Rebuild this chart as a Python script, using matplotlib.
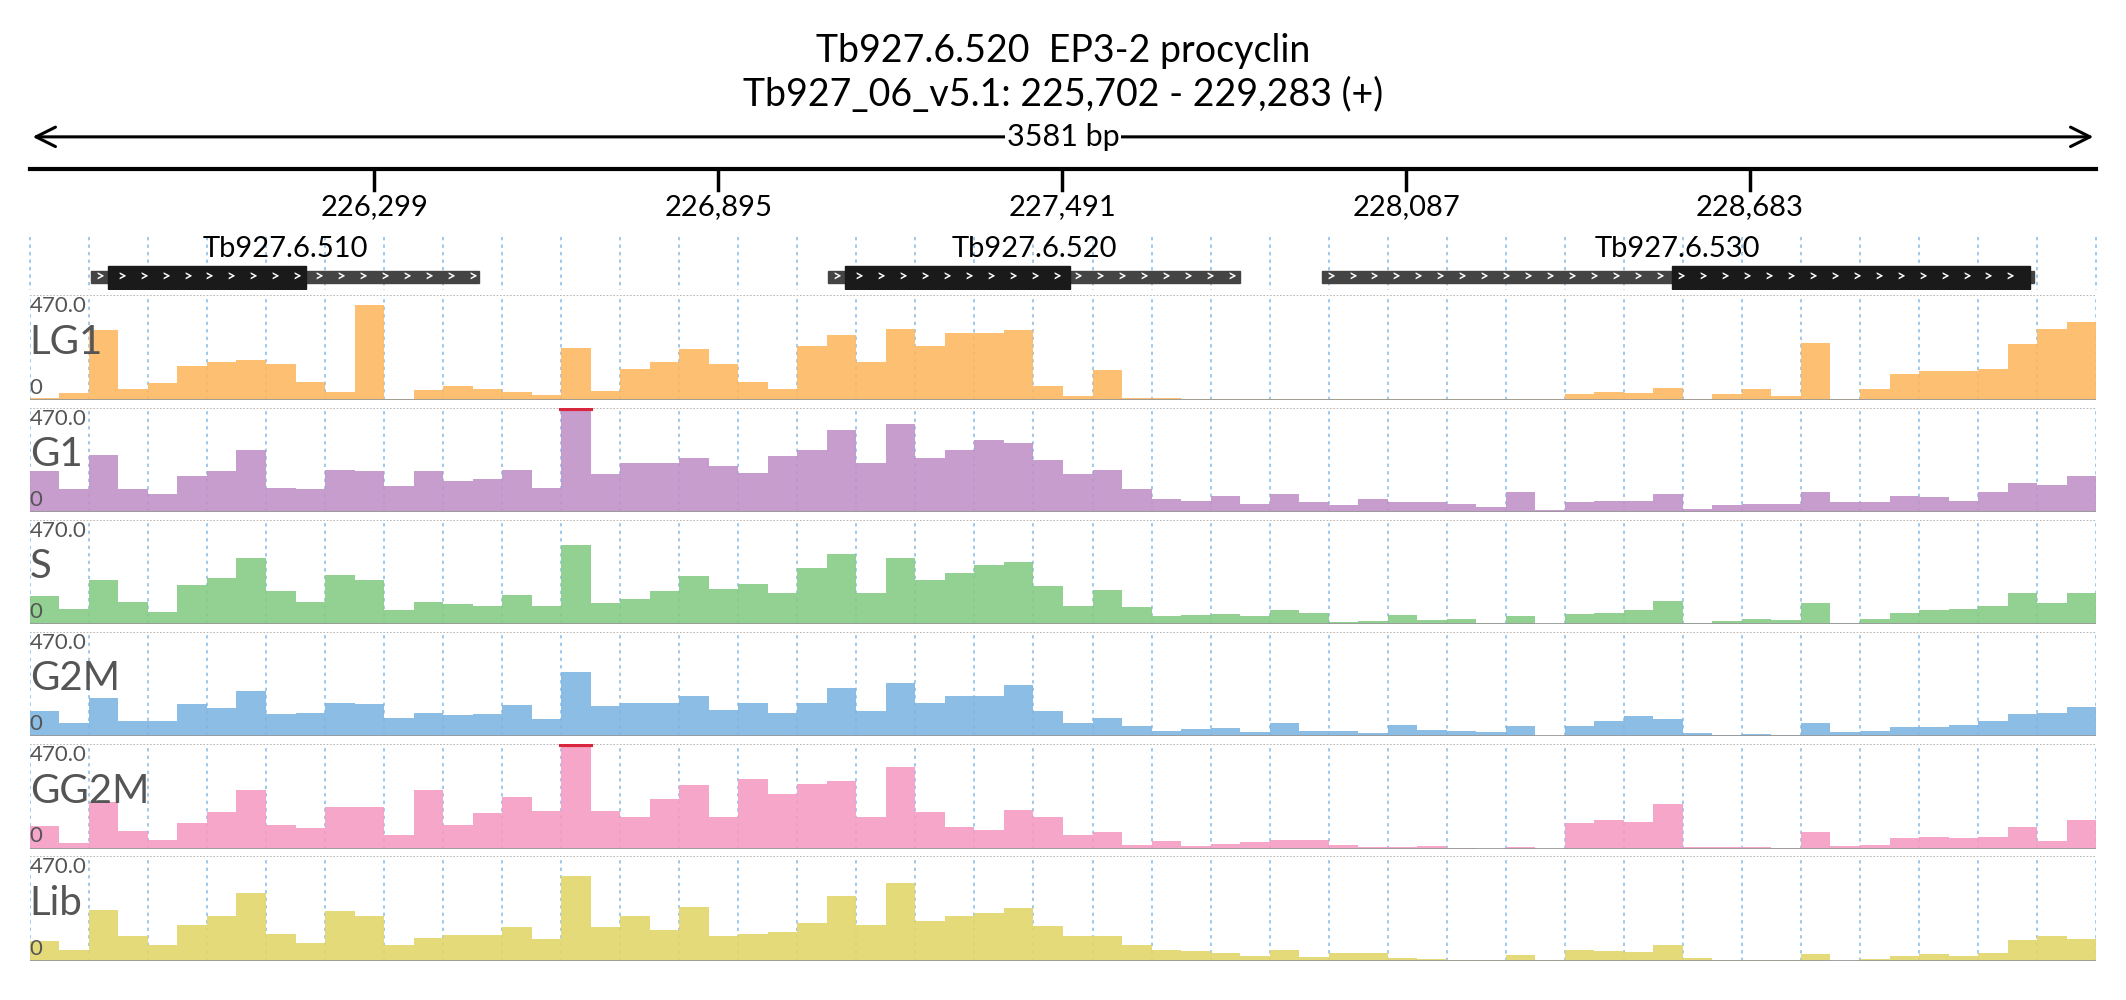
import matplotlib.pyplot as plt
import numpy as np

plt.rcParams['font.family'] = ['Lato', 'DejaVu Sans']

# ---- data ----
start, end = 225702, 229283
ticks = [226299, 226895, 227491, 228087, 228683]
n_grid = 35
ymax = 470.0

# genes: name, utr start, cds start, cds end, utr end
gene_names = ["Tb927.6.510", "Tb927.6.520", "Tb927.6.530"]
gene_utr = [(225808, 226480), (227086, 227800), (227941, 229175)]
gene_cds = [(225838, 226181), (227114, 227504), (228548, 229168)]

track_names = ["LG1", "G1", "S", "G2M", "GG2M", "Lib"]
track_colors = ["#fdb863", "#c093c7", "#86cc86", "#80b6e2", "#f59cc4", "#e3d66a"]

LG1 = [6, 30, 315, 50, 75, 150, 170, 180, 160, 80, 33, 425, 4, 45, 60, 50, 35, 20,
       233, 40, 140, 170, 230, 160, 80, 47, 240, 290, 170, 320, 240, 300, 300, 315,
       60, 15, 136, 6, 9, 3, 3, 2, 2, 2, 2, 2, 2, 2, 2, 2, 4, 2, 25, 33, 30, 55,
       3, 25, 47, 18, 255, 3, 47, 114, 129, 129, 140, 250, 320, 350]
G1 = [184, 103, 257, 103, 81, 162, 184, 279, 110, 103, 191, 184, 118, 184, 140, 147,
      191, 110, 470, 170, 220, 220, 243, 206, 176, 250, 279, 367, 220, 397, 243, 279,
      323, 309, 235, 170, 191, 103, 59, 51, 73, 37, 81, 44, 29, 59, 44, 44, 37, 22,
      88, 7, 44, 51, 51, 81, 15, 29, 37, 37, 88, 44, 44, 73, 66, 51, 88, 132, 120, 160]
S = [126, 67, 200, 100, 55, 175, 207, 300, 150, 100, 222, 200, 64, 100, 92, 80,
     133, 81, 355, 96, 111, 148, 215, 160, 180, 140, 252, 318, 140, 300, 200, 230,
     266, 281, 170, 80, 155, 78, 37, 40, 44, 37, 62, 52, 10, 12, 41, 18, 22, 7,
     37, 1, 44, 49, 62, 104, 4, 12, 21, 18, 95, 7, 22, 52, 64, 67, 81, 141, 95, 140]
G2M = [114, 62, 173, 70, 70, 144, 129, 206, 100, 107, 150, 144, 84, 107, 95, 100,
       140, 80, 290, 135, 150, 150, 181, 120, 150, 107, 152, 218, 115, 240, 150, 180,
       181, 232, 114, 60, 81, 47, 25, 33, 37, 18, 58, 25, 22, 13, 52, 28, 25, 18,
       47, 1, 47, 70, 90, 80, 13, 7, 10, 7, 62, 18, 25, 43, 40, 52, 70, 99, 105, 130]
GG2M = [102, 25, 210, 80, 40, 114, 166, 262, 107, 92, 188, 188, 62, 262, 107, 158,
        230, 170, 470, 170, 144, 225, 284, 144, 314, 247, 292, 306, 144, 366, 166, 99,
        84, 173, 140, 60, 74, 18, 36, 10, 19, 28, 37, 37, 18, 6, 7, 13, 1, 0,
        6, 0, 114, 129, 120, 200, 7, 7, 7, 3, 74, 10, 18, 47, 52, 47, 52, 96, 33, 129]
Lib = [87, 50, 230, 110, 70, 160, 200, 305, 120, 80, 226, 200, 72, 102, 117, 117,
       150, 100, 380, 150, 200, 140, 240, 110, 120, 130, 170, 290, 160, 350, 177, 200,
       215, 237, 155, 110, 110, 72, 50, 42, 35, 22, 50, 16, 35, 35, 12, 7, 4, 4,
       27, 4, 50, 42, 38, 70, 12, 4, 4, 4, 31, 0, 7, 22, 31, 22, 35, 95, 110, 100]
tracks = [LG1, G1, S, G2M, GG2M, Lib]

# ---- layout ----
W, H = 1568.0, 738.0
fig = plt.figure(figsize=(21.26, 10), dpi=100)
x0, x1 = 22 / W, 1546 / W
grid_x = np.linspace(start, end, n_grid + 1)


def fy(px):
    return 1 - px / H


grid_kw = dict(color="#8fbfe8", lw=1.2, ls=(0, (2, 2.5)), zorder=0)

# header axes (title, ruler, genes), y measured in px from top
hax = fig.add_axes([0, fy(214), 1, 1 - fy(214)])
hax.set_xlim(start - x0 / (x1 - x0) * (end - start), end + (1 - x1) / (x1 - x0) * (end - start))
hax.set_ylim(214, 0)
hax.axis("off")
mid = (start + end) / 2
hax.text(mid, 38, "Tb927.6.520  EP3-2 procyclin", ha="center", va="center", fontsize=27)
hax.text(mid, 70, "Tb927_06_v5.1: 225,702 - 229,283 (+)", ha="center", va="center", fontsize=27)
hax.annotate("", xy=(start, 101), xytext=(end, 101),
             arrowprops=dict(arrowstyle="<->", lw=2.2, color="black", mutation_scale=35))
hax.text(mid, 101, f"{end - start} bp", ha="center", va="center", fontsize=22,
         bbox=dict(fc="white", ec="none", pad=1))
hax.plot([start, end], [125, 125], color="black", lw=3)
for t in ticks:
    hax.plot([t, t], [125, 140], color="black", lw=2.5)
    hax.text(t, 153, f"{t:,}", ha="center", va="center", fontsize=21)
for gx in grid_x:
    hax.plot([gx, gx], [175, 214], **grid_kw)
for name, (u0, u1), (c0, c1) in zip(gene_names, gene_utr, gene_cds):
    hax.add_patch(plt.Rectangle((u0, 200), u1 - u0, 9, color="#444444", zorder=2))
    hax.add_patch(plt.Rectangle((c0, 196), c1 - c0, 17, color="#1a1a1a", zorder=3))
    for cx in np.arange(u0 + 15, u1 - 10, 38):
        hax.text(cx, 205, ">", color="white", ha="center", va="center",
                 fontsize=11, fontweight="bold", zorder=4)
    hax.text((u0 + u1) / 2, 184, name, ha="center", va="center", fontsize=21)

bw = (end - start) / len(LG1)
centers = start + bw * (np.arange(len(LG1)) + 0.5)
for i, (name, vals, col) in enumerate(zip(track_names, tracks, track_colors)):
    top = 218 + 82.8 * i
    ax = fig.add_axes([x0, fy(top + 77), x1 - x0, 77 / H])
    ax.set_xlim(start, end)
    ax.set_ylim(0, ymax)
    ax.axis("off")
    for gx in grid_x:
        ax.axvline(gx, **grid_kw)
    v = np.minimum(np.array(vals, float), ymax)
    ax.bar(centers, v, width=bw, color=col, alpha=0.9, lw=0, zorder=2)
    clip = np.array(vals) >= ymax
    for c in centers[clip]:
        ax.plot([c - bw / 2, c + bw / 2], [ymax - 5, ymax - 5], color="#d7263d", lw=3, zorder=3)
    ax.axhline(ymax, color="#aaaaaa", lw=1.2, ls=(0, (1, 1)), zorder=1)
    ax.axhline(0, color="#999999", lw=2, zorder=3)
    ax.text(0.0, 0.99, "470.0", transform=ax.transAxes, fontsize=16, color="#555555",
            va="top", ha="left", zorder=5)
    ax.text(0.0, 0.55, name, transform=ax.transAxes, fontsize=29, color="#555555",
            va="center", ha="left", zorder=5)
    ax.text(0.0, 0.02, "0", transform=ax.transAxes, fontsize=16, color="#555555",
            va="bottom", ha="left", zorder=5)

fig.savefig("out.png", dpi=100)
